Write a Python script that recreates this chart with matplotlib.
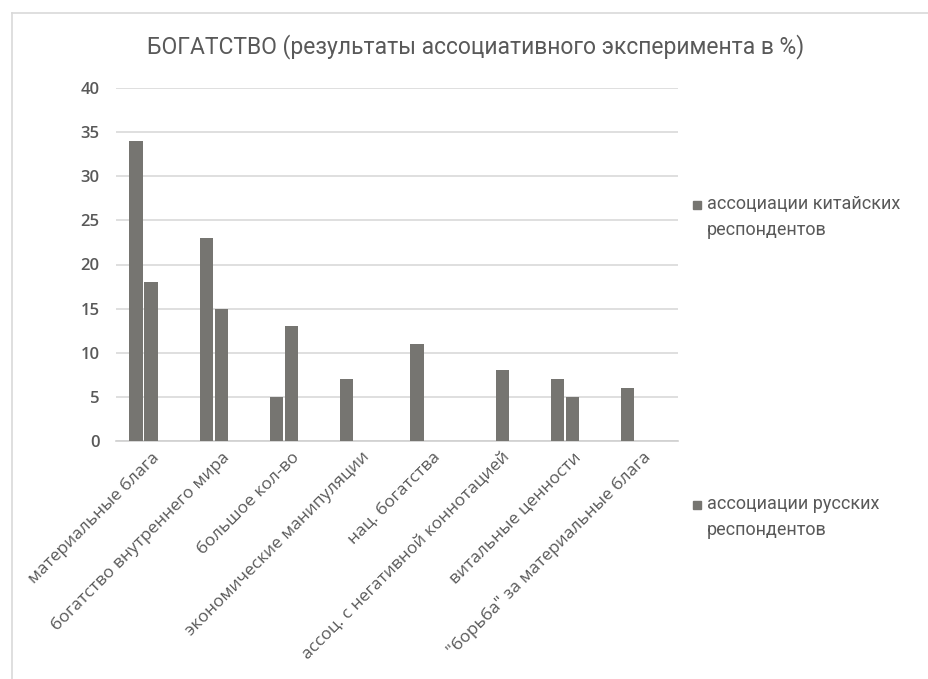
import matplotlib
matplotlib.use("Agg")
import matplotlib.pyplot as plt
import numpy as np

# categories of associations and shares (%) for both groups of respondents
categories = [
    "материальные блага",
    "богатство внутреннего мира",
    "большое кол-во",
    "экономические манипуляции",
    "нац. богатства",
    "ассоц. с негативной коннотацией",
    "витальные ценности",
    "\"борьба\" за материальные блага",
]
chinese = [34, 23, 5, 7, 11, 0, 7, 6]
russian = [18, 15, 13, 0, 0, 8, 5, 0]
series_names = ["ассоциации китайских\nреспондентов", "ассоциации русских\nреспондентов"]
yticks = [0, 5, 10, 15, 20, 25, 30, 35, 40]

bar_color = "#767571"
text_color = "#595959"
narrow = ["Roboto", "DejaVu Sans"]

fig = plt.figure(figsize=(9.29, 6.79), dpi=100)
ax = fig.add_axes([116 / 929, 1 - 441 / 679, 562 / 929, 353 / 679])

x = np.arange(len(categories))
w = 0.19
step = 0.215
for i, v in enumerate(chinese):
    if v:
        ax.bar(x[i] - step, v, width=w, color=bar_color, zorder=3)
for i, v in enumerate(russian):
    if v:
        ax.bar(x[i], v, width=w, color=bar_color, zorder=3)

ax.set_xlim(-0.5, len(categories) - 0.5)
ax.set_ylim(0, 40)
ax.set_yticks(yticks)
ax.set_yticklabels([str(t) for t in yticks], fontsize=12, color=text_color,
                   family=["Open Sans", "DejaVu Sans"], fontweight="semibold")
ax.yaxis.grid(True, color="#d9d9d9", linewidth=1.2, zorder=0)
ax.tick_params(axis="y", length=0, pad=12)
ax.tick_params(axis="x", length=0, pad=6)
for s in ["top", "right", "left"]:
    ax.spines[s].set_visible(False)
ax.spines["bottom"].set_color("#d0d0d0")
ax.spines["bottom"].set_linewidth(1.2)

ax.set_xticks(x)
ax.set_xticklabels(categories, rotation=45, ha="right", va="top",
                   rotation_mode="anchor", fontsize=12.5, color=text_color,
                   family=["Open Sans", "DejaVu Sans"])

fig.text(476 / 929, 1 - 47 / 679,
         "БОГАТСТВО (результаты ассоциативного эксперимента в %)",
         ha="center", va="center", fontsize=16.5, color=text_color, family=narrow)

# legend drawn by hand: two entries far apart on the right side
for ypix, name in zip([205, 505], series_names):
    fig.patches.append(plt.Rectangle((693 / 929, 1 - (ypix + 4) / 679), 8 / 929, 8 / 679,
                                     transform=fig.transFigure, color=bar_color))
    fig.text(707 / 929, 1 - (ypix - 10) / 679, name, ha="left", va="top",
             fontsize=13, color=text_color, family=narrow, linespacing=1.55)

# chart frame on the left and top
fig.add_artist(plt.Line2D([12 / 929, 12 / 929], [0, 1 - 13 / 679],
                          transform=fig.transFigure, color="#d9d9d9", linewidth=1.2))
fig.add_artist(plt.Line2D([12 / 929, 1], [1 - 13 / 679, 1 - 13 / 679],
                          transform=fig.transFigure, color="#d9d9d9", linewidth=1.2))

fig.savefig("out.png", dpi=100)
